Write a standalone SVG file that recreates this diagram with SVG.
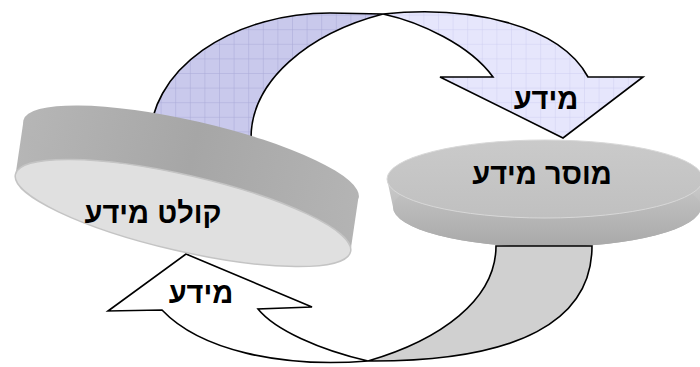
<svg xmlns="http://www.w3.org/2000/svg" width="700" height="367" viewBox="0 0 700 367">
<defs>
<pattern id="gridDark" patternUnits="userSpaceOnUse" width="14.6" height="14.6">
<rect width="14.6" height="14.6" fill="#c9c9ec"/>
<path d="M0 0H14.6M0 0V14.6" stroke="#a9a9d8" stroke-width="1"/>
</pattern>
<pattern id="gridLight" patternUnits="userSpaceOnUse" width="14.6" height="14.6">
<rect width="14.6" height="14.6" fill="#e6e6fc"/>
<path d="M0 0H14.6M0 0V14.6" stroke="#cfcff2" stroke-width="1"/>
</pattern>
<linearGradient id="bandL" x1="0" y1="0" x2="1" y2="0">
<stop offset="0" stop-color="#b6b6b6"/>
<stop offset="0.5" stop-color="#a6a6a6"/>
<stop offset="1" stop-color="#b4b4b4"/>
</linearGradient>
<linearGradient id="bandR" x1="0" y1="0" x2="0" y2="1">
<stop offset="0" stop-color="#cccccc"/>
<stop offset="1" stop-color="#a9a9a9"/>
</linearGradient>
<linearGradient id="faceR" x1="0" y1="0" x2="0" y2="1">
<stop offset="0" stop-color="#cacaca"/>
<stop offset="1" stop-color="#c0c0c0"/>
</linearGradient>
<style>
.arrow{stroke:#000;stroke-width:1.6;stroke-linejoin:miter}
.lbl{font-family:"Liberation Sans",Arial,sans-serif;font-weight:bold;font-size:29px;fill:#000;text-anchor:middle}
</style>
</defs>
<rect width="700" height="367" fill="#fff"/>

<g id="sender">
<path d="M387,179 L393,207 A154 40 0 0 0 701,207 L703,179 Z" fill="url(#bandR)"/>
<ellipse cx="547" cy="207" rx="154" ry="40" fill="url(#bandR)"/>
<ellipse cx="545" cy="179" rx="158" ry="39" fill="url(#faceR)" stroke="#d8d8d8" stroke-width="1"/>
<text class="lbl" x="542" y="184">מוסר מידע</text>
</g>

<g id="connectors">
<g id="arrow-top">
<path class="arrow" d="M150,140 A180 127 0 0 1 330,13 L383,14 C310,33 250,80 251,140 Z" fill="url(#gridDark)"/>
<path class="arrow" d="M383,14 C470,5 560,25 588,77 L643,77 L563,138 L440,77 L493,77 C470,45 420,22 383,14 Z" fill="url(#gridLight)"/>
<text class="lbl" x="546" y="109">מידע</text>
</g>
<g id="arrow-bottom">
<path class="arrow" d="M496,246 L592,246 C592,320 520,362 368,361 C440,340 496,300 496,246 Z" fill="#d0d0d0"/>
<path class="arrow" d="M368,361 C320,350 275,330 258,309 L312,307 L186,254 L108,311 L162,310 C200,350 280,368 368,361 Z" fill="#fff"/>
<text class="lbl" x="201" y="303">מידע</text>
</g>
</g>

<g id="collector">
<path d="M15.3,176.3 L23.3,122.3 L358.7,195.7 L350.7,249.7 Z" fill="url(#bandL)"/>
<ellipse cx="0" cy="0" rx="172" ry="38" transform="translate(191,159) rotate(13)" fill="url(#bandL)"/>
<ellipse cx="0" cy="0" rx="172" ry="38" transform="translate(183,213) rotate(13)" fill="#e0e0e0" stroke="#c4c4c4" stroke-width="1.5"/>
<text class="lbl" x="153" y="223">קולט מידע</text>
</g>
</svg>
